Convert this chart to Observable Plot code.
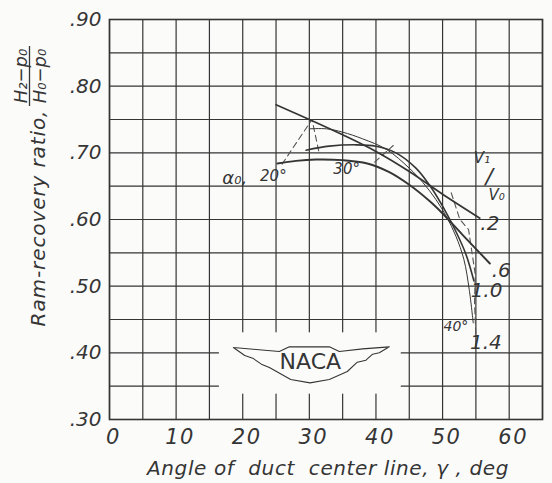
<!DOCTYPE html>
<html><head><meta charset="utf-8">
<script src="https://cdn.jsdelivr.net/npm/d3@7"></script>
<script src="https://cdn.jsdelivr.net/npm/@observablehq/plot@0.6"></script>
<style>
html,body{margin:0;padding:0;background:#fbfbfa;}
#chart{width:552px;height:483px;}
g[aria-label="x-axis tick label"] text{letter-spacing:1.5px;}
</style></head><body><div id="chart"></div>
<script>
// ---- data ----
const xTicks = [0, 10, 20, 30, 40, 50, 60];
const yTicks = [0.30, 0.40, 0.50, 0.60, 0.70, 0.80, 0.90];
const xGrid = [0, 5, 10, 15, 20, 25, 30, 35, 40, 45, 50, 55, 60, 65];
const yGrid = [0.30, 0.35, 0.40, 0.45, 0.50, 0.55, 0.60, 0.65, 0.70, 0.75, 0.80, 0.85, 0.90];

const velocityRatios = [".2", ".6", "1.0", "1.4"];
const angle_02 = [25, 30, 35, 40, 45, 50, 55.6];
const ratio_02 = [0.772, 0.750, 0.727, 0.702, 0.672, 0.638, 0.602];
const angle_06 = [25.2, 28, 31, 35, 38.7, 42, 45, 48, 50, 53, 57.1];
const ratio_06 = [0.684, 0.688, 0.690, 0.689, 0.684, 0.671, 0.652, 0.628, 0.609, 0.577, 0.534];
const angle_10 = [29.5, 33, 37, 40, 43, 46, 48, 50, 52, 53.5, 54.7];
const ratio_10 = [0.704, 0.710, 0.712, 0.710, 0.700, 0.677, 0.652, 0.620, 0.582, 0.548, 0.508];
const angle_14 = [30, 32.6, 35, 38, 41.6, 45, 47, 49, 50.6, 52, 53.2, 54, 54.6];
const ratio_14 = [0.736, 0.736, 0.731, 0.721, 0.705, 0.677, 0.656, 0.630, 0.604, 0.575, 0.540, 0.495, 0.445];

// constant inlet-angle (alpha0) dashed lines
const alpha20_angle = [25.9, 30.4, 31.4];
const alpha20_ratio = [0.683, 0.750, 0.703];
const alpha30_angle = [39.8, 42.6];
const alpha30_ratio = [0.686, 0.711];
const alpha40_angle = [51.3, 52.6, 53.9, 54.9, 54.8, 55.0];
const alpha40_ratio = [0.640, 0.600, 0.585, 0.518, 0.475, 0.425];

// NACA logo wing outline (data units)
const logo_angle = [18.6, 22, 25.5, 27, 33, 34.5, 38, 42, 40.5, 39.5, 38.5, 37.2, 35.7, 33, 30.1, 27.2, 25.6, 24, 22.8, 21.5, 20.3, 18.6];
const logo_ratio = [0.408, 0.405, 0.402, 0.409, 0.409, 0.402, 0.406, 0.409, 0.400, 0.398, 0.389, 0.386, 0.372, 0.360, 0.355, 0.360, 0.369, 0.378, 0.383, 0.392, 0.396, 0.408];

// ---- tables ----
const seriesAngles = [angle_02, angle_06, angle_10, angle_14];
const seriesRatios = [ratio_02, ratio_06, ratio_10, ratio_14];
const seriesWidth = [1.7, 1.9, 1.6, 1.0];
const curves = velocityRatios.map((v, i) => seriesAngles[i].map((a, j) => ({v, angle: a, rec: seriesRatios[i][j]})));
const zip = (xs, ys) => xs.map((x, i) => ({angle: x, rec: ys[i]}));
const dashed = [zip(alpha20_angle, alpha20_ratio), zip(alpha30_angle, alpha30_ratio), zip(alpha40_angle, alpha40_ratio)];
const logo = zip(logo_angle, logo_ratio);

const ink = "#353535";
const font = "DejaVu Sans";

const labels = [
  {t: ".2", angle: 57.1, rec: 0.594, s: 20},
  {t: ".6", angle: 58.8, rec: 0.524, s: 20},
  {t: "1.0", angle: 56.6, rec: 0.494, s: 20},
  {t: "1.4", angle: 56.5, rec: 0.416, s: 20},
  {t: "40°", angle: 52.0, rec: 0.439, s: 14},
  {t: "α₀,", angle: 18.8, rec: 0.662, s: 18},
  {t: "20°", angle: 24.6, rec: 0.665, s: 15},
  {t: "30°", angle: 35.6, rec: 0.675, s: 15},
  {t: "V₁", angle: 55.9, rec: 0.692, s: 15},
  {t: "/", angle: 57.0, rec: 0.664, s: 22},
  {t: "V₀", angle: 58.1, rec: 0.637, s: 15}
];

const marks = [
  Plot.gridX(xGrid, {stroke: ink, strokeOpacity: 1, strokeWidth: 1.2}),
  Plot.gridY(yGrid, {stroke: ink, strokeOpacity: 1, strokeWidth: 1.2}),
  Plot.rect([{x1: 16.5, x2: 43.8, y1: 0.338, y2: 0.43}], {x1: "x1", x2: "x2", y1: "y1", y2: "y2", fill: "#fbfbfa"}),
  Plot.frame({stroke: ink, strokeWidth: 1.6}),
  Plot.axisX(xTicks, {tickSize: 0, tickPadding: 10, dx: 4, fontSize: 21, fontStyle: "italic", fill: ink, label: null}),
  Plot.axisY(yTicks, {tickSize: 0, tickPadding: 8, fontSize: 20, fontStyle: "italic", fill: ink, label: null, tickFormat: d => d.toFixed(2).slice(1)}),
  Plot.line(logo, {x: "angle", y: "rec", stroke: ink, strokeWidth: 1.1}),
  Plot.text(["NACA"], {x: () => 30.15, y: () => 0.387, text: d => d, fontSize: 22, fill: ink, fontFamily: font, fontStyle: "normal"})
];
dashed.forEach(d => marks.push(Plot.line(d, {x: "angle", y: "rec", stroke: "#555", strokeWidth: 1.1, strokeDasharray: "6,4"})));
curves.forEach((c, i) => marks.push(Plot.line(c, {x: "angle", y: "rec", stroke: ink, strokeWidth: seriesWidth[i], curve: "catmull-rom"})));
marks.push(Plot.text(labels, {x: "angle", y: "rec", text: "t", fontSize: d => d.s, fill: ink, fontStyle: "italic"}));

const svg = Plot.plot({
  width: 552, height: 483,
  marginLeft: 109, marginRight: 10, marginTop: 19, marginBottom: 64,
  x: {domain: [0, 65]},
  y: {domain: [0.30, 0.90]},
  style: {fontFamily: font, fontStyle: "italic", background: "#fbfbfa", color: ink},
  marks
});

// axis titles
const s = d3.select(svg);
s.append("text").attr("x", 328).attr("y", 475).attr("text-anchor", "middle")
  .attr("font-size", 20).attr("letter-spacing", 0.6).attr("font-style", "italic").attr("fill", ink)
  .text("Angle of  duct  center line, γ , deg");
const yt = s.append("g").attr("fill", ink).attr("font-style", "italic");
yt.append("text").attr("transform", "translate(38,218) rotate(-90)").attr("text-anchor", "middle")
  .attr("dominant-baseline", "central").attr("font-size", 20).attr("letter-spacing", 0.9).text("Ram-recovery ratio,");
yt.append("text").attr("transform", "translate(20,76) rotate(-90)").attr("text-anchor", "middle")
  .attr("dominant-baseline", "central").attr("font-size", 18).text("H₂−p₀");
yt.append("text").attr("transform", "translate(39,76) rotate(-90)").attr("text-anchor", "middle")
  .attr("dominant-baseline", "central").attr("font-size", 18).text("H₀−p₀");
yt.append("line").attr("x1", 29.5).attr("x2", 29.5).attr("y1", 46).attr("y2", 106)
  .attr("stroke", ink).attr("stroke-width", 1.3);

document.getElementById("chart").appendChild(svg);
</script></body></html>
